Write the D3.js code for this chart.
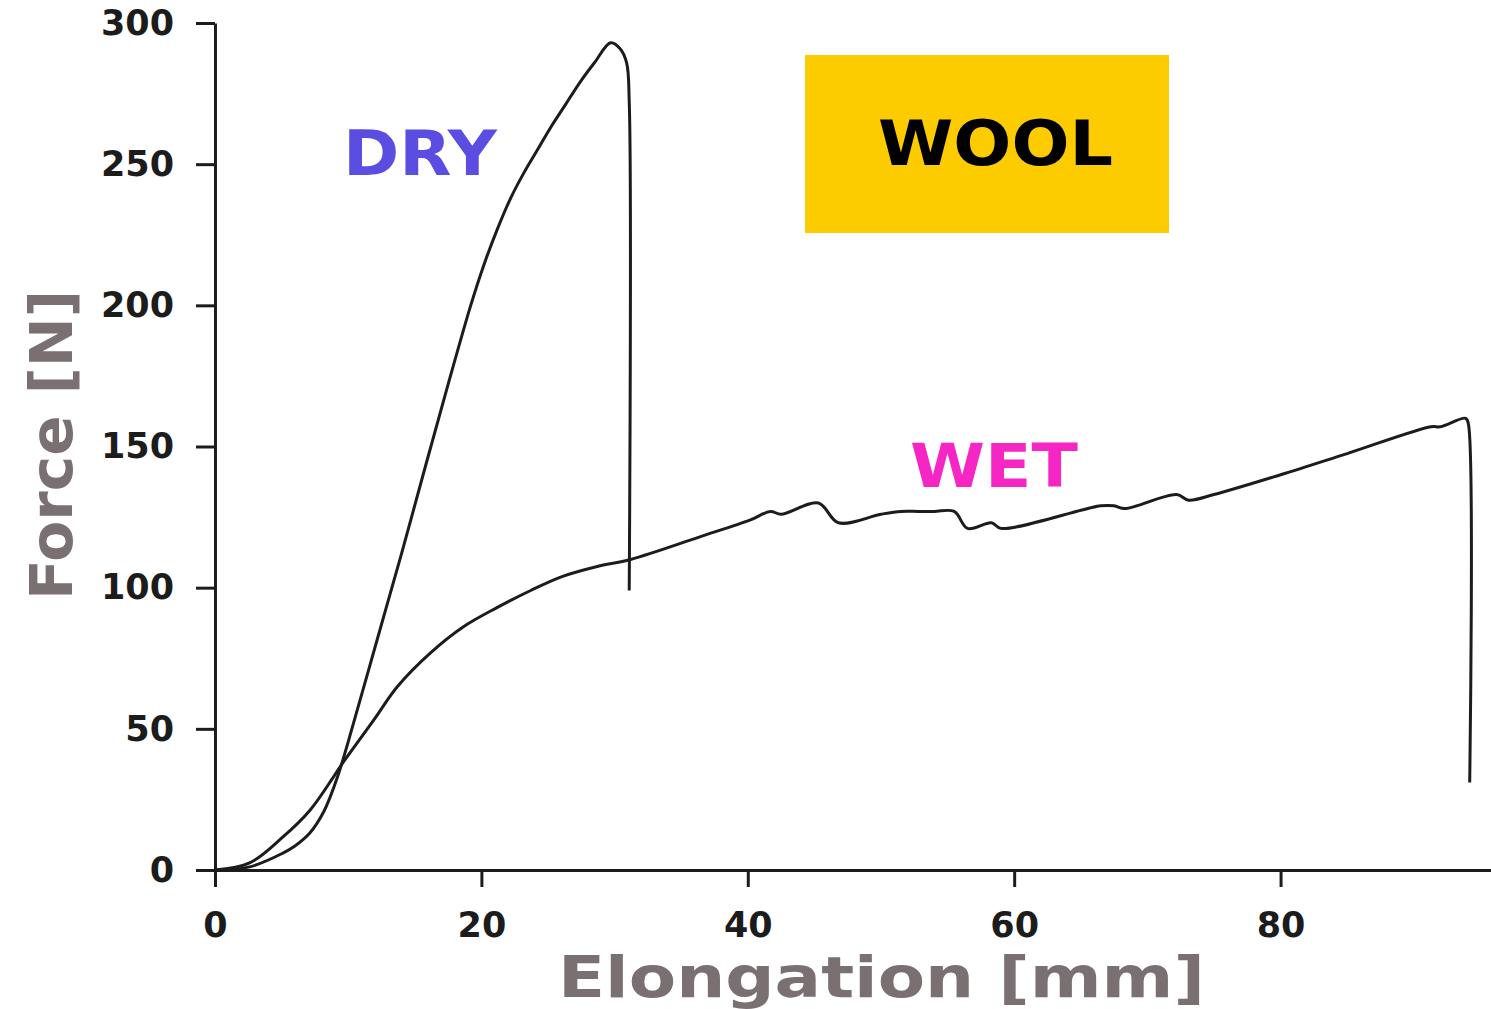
<!DOCTYPE html>
<html>
<head>
<meta charset="utf-8">
<script src="https://cdn.jsdelivr.net/npm/d3@7"></script>
<style>
  body { margin: 0; background: #fff; }
  .tick text { font-family: "DejaVu Sans", sans-serif; font-weight: bold; fill: #1c1c1c; }
</style>
</head>
<body>
<div id="chart"></div>
<script>
// elongation [mm], force [N]
var dry = [
  [0, 0], [2.6, 1.1], [5.1, 6], [6, 8.5], [7.1, 13], [8.2, 21], [9.2, 33],
  [10.4, 52], [12.2, 82], [14, 112], [15.8, 143], [17.5, 172], [19.2, 200],
  [20.2, 214.5], [21.2, 227], [22.2, 238], [23.2, 247], [24.2, 255], [25.2, 263],
  [26.3, 271], [27.4, 279], [28.5, 286], [29.7, 293], [30.4, 291],
  [30.9, 286], [31.1, 272], [31.1, 99]
];
var wet = [
  [0, 0], [2.6, 2.5], [5.1, 11.7], [7.1, 21], [8.9, 33], [9.6, 38], [11.9, 53],
  [13.7, 65], [16.2, 77], [18.6, 86], [21.2, 93], [23.7, 99], [26.1, 104],
  [28.7, 107.5], [31.2, 110], [36.4, 118], [40.2, 124], [41.7, 127], [42.5, 126],
  [45.3, 130], [46.8, 123], [50, 126], [51.5, 127], [52.8, 127], [54, 127],
  [55.5, 127], [56.5, 121], [58.3, 123], [59, 121], [66.5, 129], [67.5, 129],
  [68.3, 128], [72.2, 133], [73.1, 131], [75, 133], [80, 140], [85, 147.5],
  [91.3, 157], [92, 157], [93.9, 160], [94.1, 158], [94.2, 31]
];
var x_ticks = [0, 20, 40, 60, 80];
var y_ticks = [0, 50, 100, 150, 200, 250, 300];

var chart_width = 1491;
var chart_height = 1009;

var svg = d3.select('#chart')
      .append('svg')
      .attr('width', chart_width)
      .attr('height', chart_height);

var x_scale = d3.scaleLinear()
        .domain([0, 95.8])
        .range([215, 1491]);

var y_scale = d3.scaleLinear()
        .domain([0, 300])
        .range([870, 23]);

var x_axis = d3.axisBottom(x_scale)
        .tickValues(x_ticks)
        .tickSize(17)
        .tickSizeOuter(0)
        .tickPadding(25);

var y_axis = d3.axisLeft(y_scale)
        .tickValues(y_ticks)
        .tickSize(19)
        .tickSizeOuter(0)
        .tickPadding(22);

// WOOL box
svg.append('rect')
   .attr('x', 805)
   .attr('y', 55)
   .attr('width', 364)
   .attr('height', 178)
   .attr('fill', '#fccc00');

svg.append('text')
   .attr('x', 878)
   .attr('y', 165)
   .attr('textLength', 235)
   .attr('lengthAdjust', 'spacingAndGlyphs')
   .style('font-family', 'DejaVu Sans')
   .style('font-weight', 'bold')
   .style('font-size', '62px')
   .attr('fill', '#000')
   .text('WOOL');

var axes = [
  svg.append('g').attr('transform', 'translate(0,870)').call(x_axis),
  svg.append('g').attr('transform', 'translate(215,0)').call(y_axis)
];
axes.forEach(function(g) {
  g.selectAll('path, line').attr('stroke', '#1c1c1c').attr('stroke-width', 3);
  g.selectAll('text').style('font-size', '35px');
});

var line = d3.line()
      .x(function(d) { return x_scale(d[0]); })
      .y(function(d) { return y_scale(d[1]); })
      .curve(d3.curveCatmullRom.alpha(0.5));

[dry, wet].forEach(function(series) {
  svg.append('path')
     .datum(series)
     .attr('d', line)
     .attr('fill', 'none')
     .attr('stroke', '#1c1c1c')
     .attr('stroke-width', 3);
});

// labels
svg.append('text')
   .attr('x', 343)
   .attr('y', 175)
   .attr('textLength', 154)
   .attr('lengthAdjust', 'spacingAndGlyphs')
   .style('font-family', 'DejaVu Sans')
   .style('font-weight', 'bold')
   .style('font-size', '62px')
   .attr('fill', '#5b4de2')
   .text('DRY');

svg.append('text')
   .attr('x', 910)
   .attr('y', 487)
   .attr('textLength', 168)
   .attr('lengthAdjust', 'spacingAndGlyphs')
   .style('font-family', 'DejaVu Sans')
   .style('font-weight', 'bold')
   .style('font-size', '61px')
   .attr('fill', '#f526c4')
   .text('WET');

// axis titles
svg.append('text')
   .attr('x', 558)
   .attr('y', 997)
   .attr('textLength', 647)
   .attr('lengthAdjust', 'spacingAndGlyphs')
   .style('font-family', 'DejaVu Sans')
   .style('font-weight', 'bold')
   .style('font-size', '57px')
   .attr('fill', '#7a7072')
   .text('Elongation [mm]');

svg.append('text')
   .attr('transform', 'translate(72,600) rotate(-90)')
   .attr('textLength', 310)
   .attr('lengthAdjust', 'spacingAndGlyphs')
   .style('font-family', 'DejaVu Sans')
   .style('font-weight', 'bold')
   .style('font-size', '58px')
   .attr('fill', '#7a7072')
   .text('Force [N]');
</script>
</body>
</html>
